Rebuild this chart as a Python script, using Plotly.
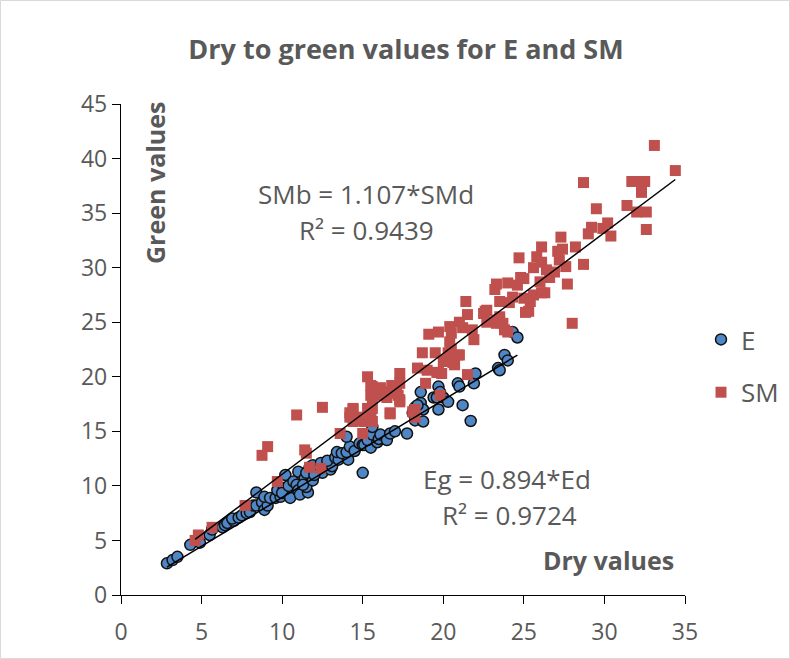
import plotly.graph_objects as go

# ---- data ----
E_x = [2.85, 3.2, 3.5, 4.3, 4.9, 5.5, 5.65, 6.3, 6.45, 6.6, 7.0, 6.9, 7.3, 7.5, 7.8, 8.0, 8.2, 8.4, 8.75, 8.9,
       9.1, 8.4, 8.9, 9.25, 9.6, 9.9, 9.7, 10.1, 10.2, 10.0, 10.5, 10.4, 10.7, 10.9, 11.0, 11.1, 11.0, 11.4,
       11.5, 11.6, 11.9, 12.2, 12.5, 12.5, 11.5, 11.3, 11.9, 11.7, 11.5, 11.9, 12.0, 12.4, 12.8, 13.0, 13.1,
       12.8, 13.3, 13.5, 14.1, 13.4, 13.7, 14.0, 14.2, 14.0, 14.5, 14.8, 15.0, 15.0, 15.1, 15.5, 15.3, 15.9,
       15.6, 15.6, 16.0, 16.1, 16.5, 16.7, 17.0, 17.75, 18.1, 18.25, 18.75, 18.6, 18.25, 18.75, 18.4, 18.6,
       19.7, 19.4, 19.6, 20.0, 20.3, 19.7, 19.8, 20.9, 21.0, 21.2, 21.7, 21.9, 22.0, 23.4, 23.5, 23.8, 24.0,
       24.3, 24.6]
E_y = [2.9, 3.2, 3.5, 4.6, 4.8, 5.5, 6.0, 6.2, 6.4, 6.6, 6.8, 7.0, 7.1, 7.3, 7.5, 7.6, 8.2, 8.2, 8.5, 7.8,
       8.2, 9.4, 9.0, 8.9, 8.9, 9.0, 9.6, 9.8, 11.0, 9.35, 8.9, 10.0, 10.4, 10.1, 9.6, 9.2, 11.3, 10.7,
       10.1, 9.4, 10.8, 11.5, 11.9, 11.2, 9.9, 10.1, 10.5, 11.7, 11.2, 11.9, 11.0, 12.1, 11.7, 11.5, 11.8,
       12.3, 12.6, 12.4, 12.4, 13.1, 13.0, 13.1, 13.6, 14.5, 13.2, 13.9, 11.2, 13.75, 13.75, 13.5, 14.2, 14.0,
       14.7, 15.4, 14.3, 14.7, 14.2, 14.8, 15.0, 14.8, 16.7, 16.0, 15.9, 17.6, 17.2, 17.0, 17.4, 18.6,
       17.0, 18.1, 18.1, 18.1, 17.7, 19.1, 18.6, 19.4, 19.1, 17.4, 15.95, 19.4, 20.3, 20.8, 20.6, 22.0, 21.5,
       24.1, 23.6]

SM_x = [4.6, 4.8, 5.65, 7.7, 8.75, 9.1, 9.7, 10.9, 11.5, 11.4, 11.7, 12.4, 12.5, 13.6, 15.0, 14.2, 14.4,
        15.3, 15.5, 15.6, 16.7, 14.4, 14.8, 14.2, 14.5, 15.1, 15.3, 15.5, 15.6, 16.1, 16.4, 16.6, 15.5, 15.6,
        15.9, 16.5, 17.1, 17.3, 17.3, 17.3, 16.8, 17.2, 17.3, 16.7, 15.5, 15.6, 14.4, 18.1, 18.25, 18.25,
        18.9, 18.4, 19.0, 19.6, 19.9, 19.8, 18.7, 19.5, 20.3, 20.9, 20.0, 20.6, 21.5, 19.7, 20.4, 20.5, 20.1,
        20.7, 21.0, 19.1, 19.7, 20.4, 20.5, 21.0, 21.2, 21.5, 21.4, 22.5, 22.7, 21.8, 21.9, 23.7, 24.0, 23.3,
        23.5, 25.1, 22.6, 22.7, 23.5, 23.8, 23.3, 24.3, 23.5, 24.1, 25.4, 25.3, 25.0, 25.6, 26.1, 26.3, 24.6,
        24.0, 23.3, 23.2, 24.8, 25.0, 26.0, 26.6, 24.7, 25.8, 26.1, 27.2, 27.6, 25.6, 26.4, 26.9, 26.1, 27.1,
        27.4, 27.3, 28.2, 28.7, 28.0, 27.7, 28.7, 29.5, 30.2, 29.2, 29.0, 30.4, 29.9, 31.4, 32.0, 32.6, 32.6,
        31.7, 32.3, 32.5, 32.3, 33.1, 34.4]
SM_y = [5.0, 5.5, 6.2, 8.2, 12.8, 13.6, 10.4, 16.5, 13.0, 13.3, 11.7, 11.6, 17.2, 14.8, 14.8, 16.7, 17.1,
        17.1, 16.5, 15.9, 16.6, 15.9, 16.3, 16.3, 16.0, 15.9, 20.0, 19.2, 19.1, 19.0, 18.6, 18.6, 18.3, 18.1,
        18.3, 18.1, 18.5, 17.9, 20.3, 19.4, 19.2, 18.3, 17.7, 16.7, 16.3, 17.1, 17.0, 16.8, 17.0, 16.3,
        19.4, 20.8, 20.6, 20.4, 20.3, 18.3, 22.2, 22.2, 22.2, 22.0, 21.4, 21.3, 20.2, 20.4, 23.2, 22.5, 21.5,
        21.1, 22.0, 23.9, 24.1, 24.6, 24.0, 25.0, 24.5, 25.7, 26.9, 25.8, 26.1, 24.3, 23.4, 24.9, 24.1, 25.2,
        25.5, 25.9, 26.0, 25.0, 25.2, 24.3, 24.9, 27.3, 26.9, 26.8, 26.9, 26.0, 27.2, 27.5, 27.7, 27.7, 28.4,
        28.6, 28.5, 28.0, 29.1, 29.0, 28.7, 29.1, 30.9, 31.0, 30.5, 30.7, 30.1, 30.0, 29.8, 29.6, 31.9, 31.5,
        31.7, 32.8, 31.9, 30.3, 24.9, 28.5, 37.8, 35.4, 34.1, 33.7, 33.1, 32.9, 33.6, 35.7, 35.1, 35.1, 33.5,
        37.9, 37.9, 37.9, 36.9, 41.2, 38.9]

E_slope = 0.894
SM_slope = 1.107

x_ticks = [0, 5, 10, 15, 20, 25, 30, 35]
y_ticks = [0, 5, 10, 15, 20, 25, 30, 35, 40, 45]

GRAY = "#595959"
FONT = "Open Sans"

fig = go.Figure()
fig.add_trace(go.Scatter(
    x=E_x, y=E_y, mode="markers", name="E", legendgroup="E",
    marker=dict(symbol="circle", size=11, color="#4F86C6",
                line=dict(color="#111111", width=1.5))))
fig.add_trace(go.Scatter(
    x=SM_x, y=SM_y, mode="markers", name="SM", legendgroup="SM",
    marker=dict(symbol="square", size=11, color="#C0504D", line=dict(width=0))))

ex = [min(E_x), max(E_x)]
fig.add_trace(go.Scatter(x=ex, y=[E_slope * v for v in ex], mode="lines",
                         line=dict(color="black", width=1.5), showlegend=False, hoverinfo="skip"))
sx = [min(SM_x), max(SM_x)]
fig.add_trace(go.Scatter(x=sx, y=[SM_slope * v for v in sx], mode="lines",
                         line=dict(color="black", width=1.5), showlegend=False, hoverinfo="skip"))

L, R, T, B = 121, 105, 104, 64
W, H = 790, 659
pw, ph = W - L - R, H - T - B

axis_common = dict(showgrid=False, zeroline=False, showline=True, linecolor="black", linewidth=1.3,
                   ticks="outside", ticklen=8, tickcolor="black", tickwidth=1.3, automargin=False,
                   tickfont=dict(family=FONT, size=23, color=GRAY))

fig.update_layout(
    width=W, height=H,
    margin=dict(l=L, r=R, t=T, b=B, autoexpand=False),
    paper_bgcolor="white", plot_bgcolor="white",
    font=dict(family=FONT, color=GRAY),
    title=dict(text="<b>Dry to green values for E and SM</b>", x=406 / W, xanchor="center",
               y=1 - 50 / H, yanchor="middle", xref="container", yref="container",
               font=dict(family=FONT, size=27, color=GRAY)),
    xaxis=dict(range=[0, 35], tickvals=x_ticks, ticklabelstandoff=8, **axis_common),
    yaxis=dict(range=[0, 45], tickvals=y_ticks, **axis_common),
    showlegend=True,
    legend=dict(x=(701 - L) / pw, y=(595 - 316) / ph, xanchor="left", yanchor="top",
                font=dict(family=FONT, size=26, color=GRAY), tracegroupgap=16,
                bgcolor="rgba(0,0,0,0)", itemwidth=30),
)

ann_font = dict(family=FONT, size=26, color=GRAY)
def px(xp):
    return (xp - L) / pw
def py(yp):
    return (H - B - yp) / ph

annotations = [
    dict(text="SMb = 1.107*SMd", x=px(366), y=py(194), font=ann_font),
    dict(text="R² = 0.9439", x=px(366), y=py(230), font=ann_font),
    dict(text="Eg = 0.894*Ed", x=px(507), y=py(479), font=ann_font),
    dict(text="R² = 0.9724", x=px(509), y=py(515), font=ann_font),
    dict(text="<b>Green values</b>", x=px(155), y=py(183), textangle=-90,
         font=dict(family=FONT, size=25, color=GRAY)),
    dict(text="<b>Dry values</b>", x=px(608), y=py(560),
         font=dict(family=FONT, size=25, color=GRAY)),
]
for a in annotations:
    a.update(xref="paper", yref="paper", showarrow=False, xanchor="center", yanchor="middle")
fig.update_layout(annotations=annotations)

fig.add_shape(type="rect", xref="paper", yref="paper",
              x0=(0.5 - L) / pw, x1=(W - 0.5 - L) / pw,
              y0=(H - B - (H - 0.5)) / ph, y1=(H - B - 0.5) / ph,
              line=dict(color="#D9D9D9", width=1), fillcolor="rgba(0,0,0,0)", layer="below")

fig.write_html("out.html", config={"displayModeBar": False},
               post_script="document.body.style.margin='0';document.body.style.overflow='hidden';")
